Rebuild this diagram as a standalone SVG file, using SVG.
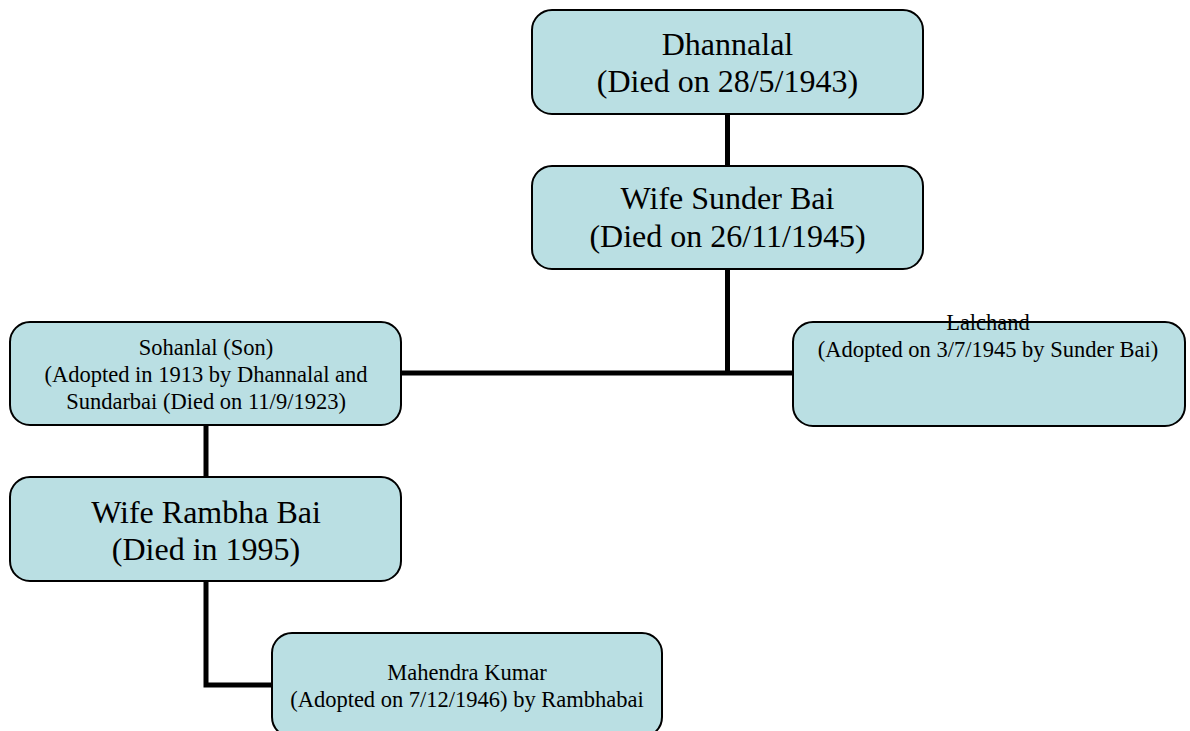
<svg xmlns="http://www.w3.org/2000/svg" width="1190" height="731" viewBox="0 0 1190 731">
<style>
.node{fill:#badfe3;stroke:#000;stroke-width:2}
.big{font-family:"Liberation Serif","Times New Roman",serif;font-size:32px;fill:#000;text-anchor:middle}
.small{font-family:"Liberation Serif","Times New Roman",serif;font-size:22.5px;fill:#000;text-anchor:middle}
.conn{fill:none;stroke:#000;stroke-width:5}
</style>
<rect width="1190" height="731" fill="#fff"/>
<g id="connectors">
<line class="conn" x1="727.5" y1="114" x2="727.5" y2="166"/>
<polyline class="conn" points="727.5,269 727.5,373"/>
<line class="conn" x1="401" y1="373" x2="794" y2="373"/>
<line class="conn" x1="206" y1="425" x2="206" y2="477"/>
<polyline class="conn" points="206,581 206,685 272,685"/>
</g>
<g id="dhannalal">
<rect class="node" x="532" y="10" width="391" height="104" rx="20"/>
<text class="big" x="727.5" y="55">Dhannalal</text>
<text class="big" x="727.5" y="92">(Died on 28/5/1943)</text>
</g>
<g id="sunderbai">
<rect class="node" x="532" y="166" width="391" height="103" rx="20"/>
<text class="big" x="727.5" y="209">Wife Sunder Bai</text>
<text class="big" x="727.5" y="247">(Died on 26/11/1945)</text>
</g>
<g id="sohanlal">
<rect class="node" x="10" y="322" width="391" height="103" rx="20"/>
<text class="small" x="206" y="355">Sohanlal (Son)</text>
<text class="small" x="206" y="382">(Adopted in 1913 by Dhannalal and</text>
<text class="small" x="206" y="409">Sundarbai (Died on 11/9/1923)</text>
</g>
<g id="lalchand">
<rect class="node" x="793" y="322" width="392" height="104" rx="20"/>
<text class="small" x="988" y="330">Lalchand</text>
<text class="small" x="988" y="357">(Adopted on 3/7/1945 by Sunder Bai)</text>
</g>
<g id="rambhabai">
<rect class="node" x="10" y="477" width="391" height="104" rx="20"/>
<text class="big" x="206" y="523">Wife Rambha Bai</text>
<text class="big" x="206" y="560">(Died in 1995)</text>
</g>
<g id="mahendra">
<rect class="node" x="272" y="633" width="390" height="104" rx="20"/>
<text class="small" x="467" y="680">Mahendra Kumar</text>
<text class="small" x="467" y="707">(Adopted on 7/12/1946) by Rambhabai</text>
</g>
</svg>
